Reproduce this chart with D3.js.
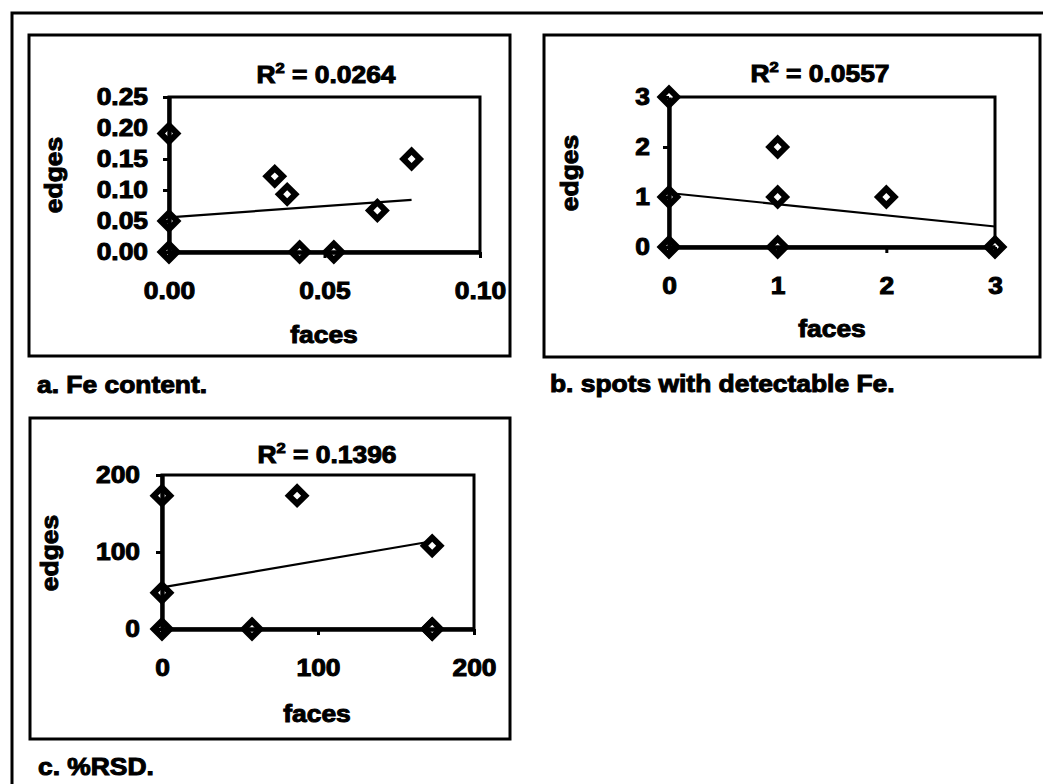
<!DOCTYPE html>
<html>
<head>
<meta charset="utf-8">
<script src="https://cdn.jsdelivr.net/npm/d3@7/dist/d3.min.js"></script>
<style>
  html, body { margin: 0; padding: 0; background: #fff; }
  svg { display: block; }
  text { font-family: "Liberation Sans", Arial, sans-serif; font-weight: bold; fill: #000;
         stroke: #000; stroke-width: 1px; }
</style>
</head>
<body>
<svg id="fig" width="1043" height="784"></svg>
<script>
// --- Panel a: Fe content ---
const facesA = [0, 0, 0, 0.034, 0.038, 0.042, 0.053, 0.067, 0.078];
const edgesA = [0.191, 0.05, 0, 0.122, 0.093, 0, 0, 0.067, 0.15];
const trendA = [[0, 0.056], [0.078, 0.084]];
const xTicksA = [0, 0.05, 0.10];
const yTicksA = [0, 0.05, 0.10, 0.15, 0.20, 0.25];
const r2A = "0.0264";

// --- Panel b: spots with detectable Fe ---
const facesB = [0, 0, 0, 1, 1, 1, 2, 3];
const edgesB = [3, 1, 0, 2, 1, 0, 1, 0];
const trendB = [[0, 1.08], [3, 0.41]];
const xTicksB = [0, 1, 2, 3];
const yTicksB = [0, 1, 2, 3];
const r2B = "0.0557";

// --- Panel c: %RSD ---
const facesC = [0, 0, 0, 57.7, 86.6, 173.2, 173.2, 173.2];
const edgesC = [173.2, 47, 0, 0, 173.2, 108, 0, 0];
const trendC = [[0, 54], [173.2, 114]];
const xTicksC = [0, 100, 200];
const yTicksC = [0, 100, 200];
const r2C = "0.1396";

const captions = ["a. Fe content.", "b. spots with detectable Fe.", "c. %RSD."];

const svg = d3.select("#fig");
const SX = 1.1;       // the typeface is set a little wider than Liberation Sans Bold
const FS = 24;

// outer frame (top and left rules)
svg.append("path")
  .attr("d", "M12,784 L12,13 L1043,13")
  .attr("fill", "none").attr("stroke", "#000").attr("stroke-width", 3);

function label(g, x, y, str, anchor, rot) {
  return g.append("text")
    .attr("transform", `translate(${x},${y}) rotate(${rot || 0}) scale(${SX},1)`)
    .attr("text-anchor", anchor || "start")
    .attr("font-size", FS)
    .text(str);
}

function panel(cfg) {
  const g = svg.append("g");
  // panel box
  g.append("rect")
    .attr("x", cfg.box[0]).attr("y", cfg.box[1])
    .attr("width", cfg.box[2] - cfg.box[0]).attr("height", cfg.box[3] - cfg.box[1])
    .attr("fill", "none").attr("stroke", "#000").attr("stroke-width", 3);

  const [L, T, R, B] = cfg.plot;
  const x = d3.scaleLinear().domain(cfg.xDomain).range([L, R]);
  const y = d3.scaleLinear().domain(cfg.yDomain).range([B, T]);

  // plot frame (top/right)
  g.append("rect")
    .attr("x", L).attr("y", T).attr("width", R - L).attr("height", B - T)
    .attr("fill", "none").attr("stroke", "#000").attr("stroke-width", 3);

  // linear trend line
  g.append("path")
    .attr("d", d3.line().x(d => x(d[0])).y(d => y(d[1]))(cfg.trend))
    .attr("fill", "none").attr("stroke", "#000").attr("stroke-width", 2.2);

  // diamond markers
  const sym = d3.symbol().type(d3.symbolSquare).size(135);
  g.selectAll("path.pt")
    .data(cfg.xs.map((v, i) => [v, cfg.ys[i]]))
    .join("path")
    .attr("class", "pt")
    .attr("d", sym)
    .attr("transform", d => `translate(${x(d[0])},${y(d[1])}) rotate(45)`)
    .attr("fill", "#fff").attr("stroke", "#000").attr("stroke-width", 6);

  // axes
  const ax = g.append("g").attr("transform", `translate(0,${B})`)
    .call(d3.axisBottom(x).tickValues(cfg.xTicks).tickFormat(cfg.xFmt)
      .tickSize(6).tickSizeOuter(0).tickPadding(24));
  const ay = g.append("g").attr("transform", `translate(${L},0)`)
    .call(d3.axisLeft(y).tickValues(cfg.yTicks).tickFormat(cfg.yFmt)
      .tickSize(6).tickSizeOuter(0).tickPadding(cfg.yPad));
  [ax, ay].forEach(a => {
    a.select(".domain").attr("stroke-width", 4.4);
    a.selectAll(".tick line").attr("stroke-width", 3);
    a.selectAll("text").attr("font-size", FS).attr("font-family", null);
  });
  ax.selectAll("text").attr("transform", `scale(${SX},1)`).attr("x", 0);
  ay.selectAll("text").each(function () {
    const t = d3.select(this);
    t.attr("x", +t.attr("x") / SX).attr("transform", `scale(${SX},1)`);
  });

  // R² label
  const r = g.append("text")
    .attr("transform", `translate(${cfg.r2Pos[0]},${cfg.r2Pos[1]}) scale(${SX},1)`)
    .attr("text-anchor", "middle").attr("font-size", FS);
  r.append("tspan").text("R");
  r.append("tspan").attr("font-size", 15).attr("dy", -10).text("2");
  r.append("tspan").attr("dy", 10).text(" = " + cfg.r2);

  label(g, cfg.facesPos[0], cfg.facesPos[1], "faces", "middle");
  label(g, cfg.edgesPos[0], cfg.edgesPos[1], "edges", "middle", -90);
  label(svg, cfg.capPos[0], cfg.capPos[1], cfg.caption, "start");
}

panel({
  box: [29, 35, 510, 356], plot: [169, 97, 480, 252],
  xDomain: [0, 0.10], yDomain: [0, 0.25],
  xs: facesA, ys: edgesA, trend: trendA,
  xTicks: xTicksA, yTicks: yTicksA, xFmt: d3.format(".2f"), yFmt: d3.format(".2f"), yPad: 15,
  r2: r2A, r2Pos: [326, 83], facesPos: [324, 343], edgesPos: [62, 175],
  caption: captions[0], capPos: [37, 393]
});

panel({
  box: [544, 35, 1040, 357], plot: [669, 97, 995, 247],
  xDomain: [0, 3], yDomain: [0, 3],
  xs: facesB, ys: edgesB, trend: trendB,
  xTicks: xTicksB, yTicks: yTicksB, xFmt: d3.format("d"), yFmt: d3.format("d"), yPad: 13,
  r2: r2B, r2Pos: [820, 82], facesPos: [832, 337], edgesPos: [578, 173],
  caption: captions[1], capPos: [550, 392]
});

panel({
  box: [30, 418, 510, 739], plot: [162, 475, 474, 629],
  xDomain: [0, 200], yDomain: [0, 200],
  xs: facesC, ys: edgesC, trend: trendC,
  xTicks: xTicksC, yTicks: yTicksC, xFmt: d3.format("d"), yFmt: d3.format("d"), yPad: 16,
  r2: r2C, r2Pos: [327, 463], facesPos: [317, 722], edgesPos: [58, 553],
  caption: captions[2], capPos: [38, 775]
});
</script>
</body>
</html>
